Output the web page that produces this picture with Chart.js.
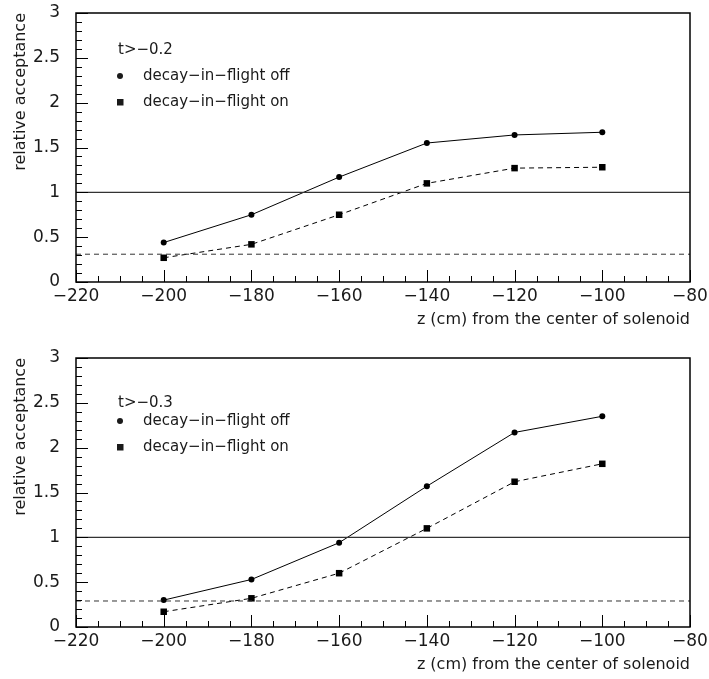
<!DOCTYPE html>
<html lang="en">
<head>
    <meta charset="UTF-8">
    <title>relative acceptance vs z</title>
    <script src="https://cdn.jsdelivr.net/npm/chart.js@4"></script>
    <style>
        body { margin: 0; background: #fff; }
        .panel { position: absolute; left: 0; }
    </style>
</head>
<body>
    <canvas id="topChart" class="panel" width="709" height="340" style="top:0"></canvas>
    <canvas id="bottomChart" class="panel" width="709" height="339" style="top:340px"></canvas>
    <script>
        // z positions (cm)
        const zPositions = [-200, -180, -160, -140, -120, -100];

        // t > -0.2
        const offTop = [0.44, 0.75, 1.17, 1.55, 1.64, 1.67];
        const onTop = [0.27, 0.42, 0.75, 1.10, 1.27, 1.28];
        const cutTop = 0.31;

        // t > -0.3
        const offBottom = [0.30, 0.53, 0.94, 1.57, 2.17, 2.35];
        const onBottom = [0.17, 0.32, 0.60, 1.10, 1.62, 1.82];
        const cutBottom = 0.29;

        const unityLevel = 1;
        const xRange = [-220, -80];
        const yRange = [0, 3];

        const FONT = "'DejaVu Sans', sans-serif";
        const INK = '#1a1a1a';

        const toPoints = (ys) => zPositions.map((z, i) => ({ x: z, y: ys[i] }));
        const flat = (v) => [{ x: xRange[0], y: v }, { x: xRange[1], y: v }];
        const minus = (v) => String(v).replace('-', '\u2212');

        // frame and inward ticks (major + minor) drawn on the scales
        const frameTicks = {
            id: 'frameTicks',
            afterDraw(chart) {
                const { ctx, chartArea: a, scales: { x, y } } = chart;
                ctx.save();
                ctx.strokeStyle = '#000';
                ctx.lineWidth = 1.5;
                ctx.strokeRect(a.left, a.top, a.right - a.left, a.bottom - a.top);
                ctx.lineWidth = 1;
                ctx.beginPath();
                for (let v = xRange[0]; v <= xRange[1]; v += 5) {
                    const px = Math.round(x.getPixelForValue(v)) + 0.5;
                    const len = v % 20 === 0 ? 12 : 6;
                    ctx.moveTo(px, a.bottom);
                    ctx.lineTo(px, a.bottom - len);
                }
                for (let i = 0; i <= 30; i++) {
                    const py = Math.round(y.getPixelForValue(i / 10)) + 0.5;
                    const len = i % 5 === 0 ? 12 : 6;
                    ctx.moveTo(a.left, py);
                    ctx.lineTo(a.left + len, py);
                }
                ctx.stroke();
                ctx.restore();
            }
        };

        // in-plot legend, drawn like the original key
        const keyBox = {
            id: 'keyBox',
            afterDraw(chart, args, opts) {
                const { ctx, chartArea: a } = chart;
                ctx.save();
                ctx.fillStyle = INK;
                ctx.font = '15px ' + FONT;
                ctx.textBaseline = 'middle';
                ctx.fillText(opts.title, a.left + 42, a.top + opts.titleDy);
                const rows = [a.top + 63, a.top + 89];
                ctx.beginPath();
                ctx.arc(a.left + 44, rows[0], 3, 0, Math.PI * 2);
                ctx.fill();
                ctx.fillRect(a.left + 41, rows[1] - 3, 6.5, 6.5);
                ctx.fillText('decay\u2212in\u2212flight off', a.left + 67, rows[0]);
                ctx.fillText('decay\u2212in\u2212flight on', a.left + 67, rows[1]);
                ctx.restore();
            }
        };

        function makeChart(id, offVals, onVals, cut, title, pad, xHeight, titleDy, xTitleGap) {
            return new Chart(document.getElementById(id), {
                type: 'scatter',
                data: {
                    datasets: [
                        {
                            data: flat(unityLevel), showLine: true, borderColor: '#333',
                            borderWidth: 1.3, pointRadius: 0
                        },
                        {
                            data: flat(cut), showLine: true, borderColor: '#333',
                            borderWidth: 1, borderDash: [5, 4], pointRadius: 0
                        },
                        {
                            label: 'decay-in-flight off', data: toPoints(offVals), showLine: true,
                            borderColor: '#000', borderWidth: 1, pointStyle: 'circle',
                            pointRadius: 3, backgroundColor: '#000', pointBorderWidth: 0
                        },
                        {
                            label: 'decay-in-flight on', data: toPoints(onVals), showLine: true,
                            borderColor: '#000', borderWidth: 1, borderDash: [5, 4], pointStyle: 'rect',
                            pointRadius: 4.6, backgroundColor: '#000', pointBorderWidth: 0
                        }
                    ]
                },
                options: {
                    responsive: false,
                    animation: false,
                    devicePixelRatio: 1,
                    layout: { padding: { top: pad, right: 19, left: 0, bottom: 0 } },
                    plugins: {
                        legend: { display: false },
                        tooltip: { enabled: false },
                        keyBox: { title: title, titleDy: titleDy }
                    },
                    scales: {
                        x: {
                            type: 'linear', min: xRange[0], max: xRange[1],
                            grid: { display: false, drawTicks: false },
                            border: { display: false },
                            ticks: {
                                stepSize: 20, padding: 4, color: INK,
                                font: { family: FONT, size: 17 },
                                callback: (v) => minus(v)
                            },
                            title: {
                                display: true, text: 'z (cm) from the center of solenoid',
                                align: 'end', color: INK, font: { family: FONT, size: 16 },
                                padding: { top: 0, bottom: xTitleGap }
                            },
                            afterFit: (s) => {
                                s.height = xHeight;
                                s.paddingLeft = 0;
                                s.paddingRight = 0;
                            }
                        },
                        y: {
                            min: yRange[0], max: yRange[1],
                            grid: { display: false, drawTicks: false },
                            border: { display: false },
                            ticks: {
                                stepSize: 0.5, padding: 16, color: INK,
                                font: { family: FONT, size: 17 },
                                callback: (v) => String(v)
                            },
                            title: {
                                display: true, text: 'relative acceptance',
                                align: 'end', color: INK, font: { family: FONT, size: 16 },
                                padding: { top: 11, bottom: 0 }
                            },
                            afterFit: (s) => {
                                s.width = 76;
                                s.paddingTop = 0;
                                s.paddingBottom = 0;
                            }
                        }
                    }
                },
                plugins: [frameTicks, keyBox]
            });
        }

        makeChart('topChart', offTop, onTop, cutTop, 't>\u22120.2', 13, 58, 37, 11);
        makeChart('bottomChart', offBottom, onBottom, cutBottom, 't>\u22120.3', 18, 52, 45, 5);
    </script>
</body>
</html>
